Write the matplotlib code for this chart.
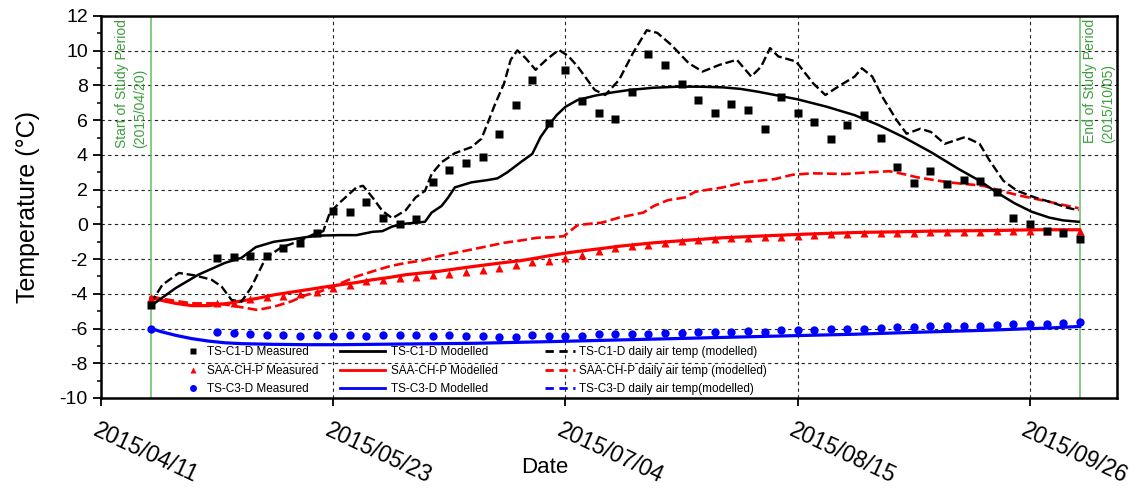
import datetime as dt
import matplotlib
matplotlib.use('Agg')
import matplotlib.pyplot as plt
import matplotlib.dates as mdates
import matplotlib.transforms as mtransforms
from matplotlib.lines import Line2D
from matplotlib import font_manager

names = {f.name for f in font_manager.fontManager.ttflist}
base_font = 'Liberation Sans' if 'Liberation Sans' in names else 'DejaVu Sans'
plt.rcParams['font.family'] = [base_font, 'DejaVu Sans']
plt.rcParams['axes.unicode_minus'] = False

# ---------------- data (days since 2015/04/11) ----------------
start_date = '2015/04/11'
study_start = '2015/04/20'
study_end = '2015/10/05'
tick_labels = ['2015/04/11', '2015/05/23', '2015/07/04', '2015/08/15', '2015/09/26']

meas_days = [9] + list(range(21, 178, 3))

c1_meas = [-4.64,
           -1.93, -1.88, -1.84, -1.84, -1.35, -1.10, -0.52,
           0.77, 0.72, 1.27, 0.37, 0.00, 0.33, 2.46, 3.15, 3.54, 3.87, 5.22, 6.90, 8.32, 5.86,
           8.90, 7.12, 6.44, 6.09, 7.64, 9.83, 9.15, 8.09, 7.16, 6.44, 6.94, 6.60, 5.49, 7.31,
           6.44, 5.88, 4.89, 5.71, 6.27, 4.95, 3.29, 2.36, 3.08, 2.34, 2.57, 2.50, 1.86, 0.35,
           0.00, -0.39, -0.52, -0.87]

saa_meas = [-4.25,
            -4.52, -4.55, -4.32, -4.20, -4.12, -4.00, -3.87,
            -3.68, -3.52, -3.29, -3.19, -3.09, -3.02, -2.94, -2.86, -2.75, -2.63, -2.51, -2.32, -2.18, -2.09,
            -1.93, -1.78, -1.55, -1.37, -1.26, -1.16, -1.06, -0.97, -0.91, -0.85, -0.81, -0.77, -0.73, -0.70,
            -0.66, -0.62, -0.56, -0.54, -0.52, -0.50, -0.48, -0.47, -0.45, -0.44, -0.43, -0.42, -0.41, -0.40,
            -0.40, -0.39, -0.39, -0.39]

c3_meas = [-6.00,
           -6.19, -6.23, -6.29, -6.39, -6.39, -6.43, -6.39,
           -6.43, -6.39, -6.45, -6.39, -6.39, -6.39, -6.45, -6.39, -6.41, -6.41, -6.47, -6.47, -6.37, -6.43,
           -6.41, -6.41, -6.31, -6.33, -6.33, -6.31, -6.25, -6.25, -6.21, -6.21, -6.21, -6.14, -6.18, -6.08,
           -6.08, -6.06, -6.02, -6.02, -6.02, -5.96, -5.92, -5.92, -5.88, -5.86, -5.83, -5.83, -5.79, -5.73,
           -5.73, -5.73, -5.67, -5.63]

c1_mod_days = [9, 13.5, 17.6, 22.4, 25.4, 28, 31.3, 34.3, 37.2, 40.2, 43.2, 46.2, 49.1, 50.9, 52.7,
               55.1, 58.6, 59.8, 61.6, 62.8, 64, 67, 69.9, 71.7, 73.5, 75.9, 78, 79.5, 81.2, 82.4,
               84, 86.2, 89.3, 92.5, 95.6, 100, 104.4, 108.1, 112.5, 115.7, 118.8, 121.9, 126,
               131.3, 136.3, 140.7, 145.1, 150.1, 155.1, 158.9, 162, 165.2, 168.3, 171.5, 174, 176.8]
c1_mod = [-4.70, -3.67, -2.90, -2.22, -1.93, -1.31, -1.00, -0.87, -0.73, -0.64, -0.62, -0.62, -0.43,
          -0.39, -0.12, 0.04, 0.15, 0.68, 1.06, 1.55, 2.13, 2.42, 2.55, 2.65, 3.00, 3.58, 4.06, 5.03,
          5.80, 6.29, 6.77, 7.16, 7.41, 7.60, 7.74, 7.87, 7.93, 7.93, 7.89, 7.80, 7.64, 7.45, 7.20,
          6.77, 6.29, 5.71, 5.03, 4.16, 3.19, 2.51, 1.84, 1.22, 0.73, 0.39, 0.23, 0.15]

c1_air_days = [9, 11.1, 14.1, 17, 20, 21.8, 23.6, 25.4, 27.1, 29.8, 32.5, 35.5, 38.4, 40.2, 41.4,
               43.2, 46.2, 47.4, 49.1, 50.9, 52.7, 55.1, 56.9, 58.6, 59.8, 61.6, 64, 67, 68.8, 69.9,
               71.2, 72.9, 74.1, 75.3, 76.8, 78.6, 80.6, 82.8, 84.5, 86.2, 89.3, 91.2, 93.7, 96.2,
               98.7, 100.6, 103.1, 106.3, 108.8, 111.9, 115, 117.6, 119.4, 121, 122.5, 125.7, 128.8,
               131, 133.8, 136.3, 137.6, 139.5, 141.3, 143.9, 145.7, 148.2, 150.1, 152.6, 156.3,
               158.9, 160.7, 163.2, 165.7, 168.9, 172, 174.6, 176.8]
c1_air = [-4.55, -3.48, -2.80, -2.94, -3.19, -3.58, -4.35, -4.45, -3.67, -1.93, -1.35, -1.00, -0.58,
          -0.39, 0.68, 1.26, 2.13, 2.22, 1.55, 0.77, 0.35, 0.81, 1.55, 1.93, 2.90, 3.58, 4.10, 4.45,
          4.93, 5.80, 6.87, 8.12, 9.48, 10.02, 9.57, 8.90, 9.50, 10.05, 9.70, 9.09, 7.74, 7.45, 8.32,
          9.86, 11.18, 11.03, 10.35, 9.28, 8.80, 9.19, 9.48, 8.51, 9.09, 10.15, 9.67, 9.38, 8.12,
          7.45, 8.03, 8.51, 8.99, 8.51, 7.35, 6.00, 5.22, 5.51, 5.32, 4.64, 5.03, 4.64, 3.68, 2.51,
          1.93, 1.55, 1.26, 0.97, 0.81]

saa_mod_days = [9, 11.1, 13.5, 16.4, 19.4, 23, 25.4, 28.3, 31.3, 34.3, 37.2, 40.2, 43.2, 46.2, 49.1,
                52.1, 55.1, 58, 61, 64, 67, 69.9, 72.9, 75.9, 78.9, 81.2, 84.3, 87.4, 90.6, 93.7, 100,
                106.3, 112.5, 118.8, 126, 131.3, 137.6, 143.9, 150.1, 156.3, 162.7, 168.9, 176.8]
saa_mod = [-4.22, -4.39, -4.55, -4.68, -4.68, -4.55, -4.41, -4.26, -4.06, -3.91, -3.77, -3.62, -3.48,
           -3.35, -3.19, -3.06, -2.90, -2.80, -2.71, -2.57, -2.44, -2.32, -2.20, -2.09, -1.93, -1.80,
           -1.64, -1.51, -1.39, -1.26, -1.06, -0.91, -0.77, -0.68, -0.58, -0.52, -0.46, -0.43, -0.39,
           -0.37, -0.35, -0.31, -0.31]

saa_air_days = [9, 12.3, 16.4, 21.2, 24.8, 28.3, 31.3, 34.3, 37.2, 39.6, 42, 46.2, 49.1, 52.1, 55.1,
                58, 61, 64, 67, 69.9, 72.9, 75.9, 78.9, 81.2, 83.7, 86.2, 90.6, 93.7, 98.1, 100, 102.5,
                105.6, 107.5, 112.5, 116.3, 121.9, 125.1, 128.8, 134.5, 138.9, 142.6, 145.1, 147.6,
                153.3, 159.6, 162.7, 166.4, 170.2, 174, 176.8]
saa_air = [-4.16, -4.35, -4.55, -4.55, -4.74, -4.93, -4.74, -4.45, -4.06, -3.87, -3.58, -3.00, -2.71,
           -2.42, -2.22, -2.09, -1.84, -1.64, -1.45, -1.26, -1.06, -0.93, -0.77, -0.75, -0.68, -0.04,
           0.10, 0.39, 0.68, 1.06, 1.39, 1.55, 1.88, 2.13, 2.42, 2.61, 2.86, 2.94, 2.90, 3.00, 3.06,
           2.90, 2.71, 2.42, 2.22, 1.93, 1.64, 1.39, 1.12, 0.93]

c3_mod_days = [9, 11, 13.5, 16.4, 19.4, 22.4, 25.4, 31.3, 37.2, 43.2, 49, 55, 61, 67.6, 83, 101, 124,
               136, 148, 160, 172, 177]
c3_mod = [-6.00, -6.19, -6.39, -6.58, -6.72, -6.82, -6.87, -6.91, -6.93, -6.93, -6.91, -6.89, -6.87,
          -6.85, -6.74, -6.60, -6.42, -6.33, -6.21, -6.10, -5.96, -5.88]

# ---------------- helpers ----------------
def d2n(s):
    return mdates.date2num(dt.datetime.strptime(s, '%Y/%m/%d'))

base = d2n(start_date)
def xs(days):
    return [base + d for d in days]

# ---------------- figure ----------------
fig = plt.figure(figsize=(11.4, 4.96), dpi=100)
ax = fig.add_axes([101 / 1140, 1 - 398 / 496, 1016 / 1140, 382 / 496])

RED = '#ff0000'
BLUE = '#0000ff'
BLACK = '#000000'

ax.plot(xs(c3_mod_days), c3_mod, color=BLUE, lw=2.3, zorder=3)
ax.plot(xs(saa_air_days), saa_air, color=RED, lw=1.9, ls='--', zorder=3)
ax.plot(xs(saa_mod_days), saa_mod, color=RED, lw=2.3, zorder=3)
ax.plot(xs(c1_air_days), c1_air, color=BLACK, lw=1.7, ls='--', zorder=3)
ax.plot(xs(c1_mod_days), c1_mod, color=BLACK, lw=1.8, zorder=3)

ax.plot(xs(meas_days), c3_meas, 'o', color=BLUE, ms=6, mec='none', zorder=4)
ax.plot(xs(meas_days), saa_meas, '^', color=RED, ms=6, mec='none', zorder=4)
ax.plot(xs(meas_days), c1_meas, 's', color=BLACK, ms=5.5, mec='none', zorder=4)

# study period markers
GREEN_LINE = '#66bb66'
GREEN_TEXT = '#3d9e3d'
ax.axvline(d2n(study_start), color=GREEN_LINE, lw=1.1, zorder=2)
ax.axvline(d2n(study_end), color=GREEN_LINE, lw=1.1, zorder=2)
ax.text(d2n(study_start) - 0.7, 11.8, 'Start of Study Period\n(' + study_start + ')',
        rotation=90, ha='right', va='top', color=GREEN_TEXT, fontsize=10,
        linespacing=1.35, multialignment='left')
ax.text(d2n(study_end) + 0.6, 11.85, 'End of Study Period\n(' + study_end + ')',
        rotation=90, ha='left', va='top', color=GREEN_TEXT, fontsize=10,
        linespacing=1.35, multialignment='left')

# axes limits and ticks
ax.set_xlim(base, d2n(tick_labels[-1]) + 15.75)
ax.set_ylim(-10, 12)
ax.set_yticks(range(-10, 13, 2))
ax.set_yticks(range(-9, 12, 2), minor=True)
ax.set_xticks([d2n(t) for t in tick_labels])
ax.set_xticklabels(tick_labels)

ax.grid(True, which='major', color='#222222', ls=(0, (3, 3)), lw=0.8)
for sp in ax.spines.values():
    sp.set_linewidth(1.8)

ax.tick_params(axis='y', which='major', direction='out', length=5.5, width=1.3,
               labelsize=14, pad=4)
ax.tick_params(axis='y', which='minor', direction='out', length=3, width=1.1)
ax.tick_params(axis='x', which='major', direction='out', length=6, width=1.3,
               labelsize=16.5, pad=9)

off = mtransforms.ScaledTranslation(-2 / 100, 0, fig.dpi_scale_trans)
for lab in ax.get_xticklabels():
    lab.set_rotation(-25)
    lab.set_ha('left')
    lab.set_va('top')
    lab.set_rotation_mode('anchor')
    lab.set_transform(lab.get_transform() + off)

ax.set_ylabel('Temperature (°C)', fontsize=18)
ax.yaxis.set_label_coords(-0.060, 0.5)
ax.set_xlabel('Date', fontsize=16)
ax.xaxis.set_label_coords(0.437, -0.155)

# legends (three columns)
lg_kw = dict(frameon=False, fontsize=8.5, loc='upper left', borderaxespad=0, borderpad=0,
             labelspacing=0.56)
h1 = [Line2D([], [], ls='none', marker='s', color=BLACK, ms=4.5, mec='none'),
      Line2D([], [], ls='none', marker='^', color=RED, ms=5, mec='none'),
      Line2D([], [], ls='none', marker='o', color=BLUE, ms=5, mec='none')]
l1 = ['TS-C1-D Measured', 'SAA-CH-P Measured', 'TS-C3-D Measured']
h2 = [Line2D([], [], color=BLACK, lw=2), Line2D([], [], color=RED, lw=2),
      Line2D([], [], color=BLUE, lw=2)]
l2 = ['TS-C1-D Modelled', 'SAA-CH-P Modelled', 'TS-C3-D Modelled']
h3 = [Line2D([], [], color=BLACK, lw=2, ls=(0, (3, 2))),
      Line2D([], [], color=RED, lw=2, ls=(0, (3, 2))),
      ax.plot([], [], color=BLUE, lw=2, ls=(0, (3, 2)))[0]]
l3 = ['TS-C1-D daily air temp (modelled)', 'SAA-CH-P daily air temp (modelled)',
      'TS-C3-D daily air temp(modelled)']

top = 0.136
leg1 = ax.legend(h1, l1, bbox_to_anchor=(0.0837, top), handlelength=1.1,
                 handletextpad=0.65, **lg_kw)
ax.add_artist(leg1)
leg2 = ax.legend(h2, l2, bbox_to_anchor=(0.235, top), handlelength=3.8,
                 handletextpad=0.55, **lg_kw)
ax.add_artist(leg2)
leg3 = ax.legend(h3, l3, bbox_to_anchor=(0.437, top), handlelength=2.5,
                 handletextpad=0.4, **lg_kw)

fig.savefig('out.png', dpi=100)
